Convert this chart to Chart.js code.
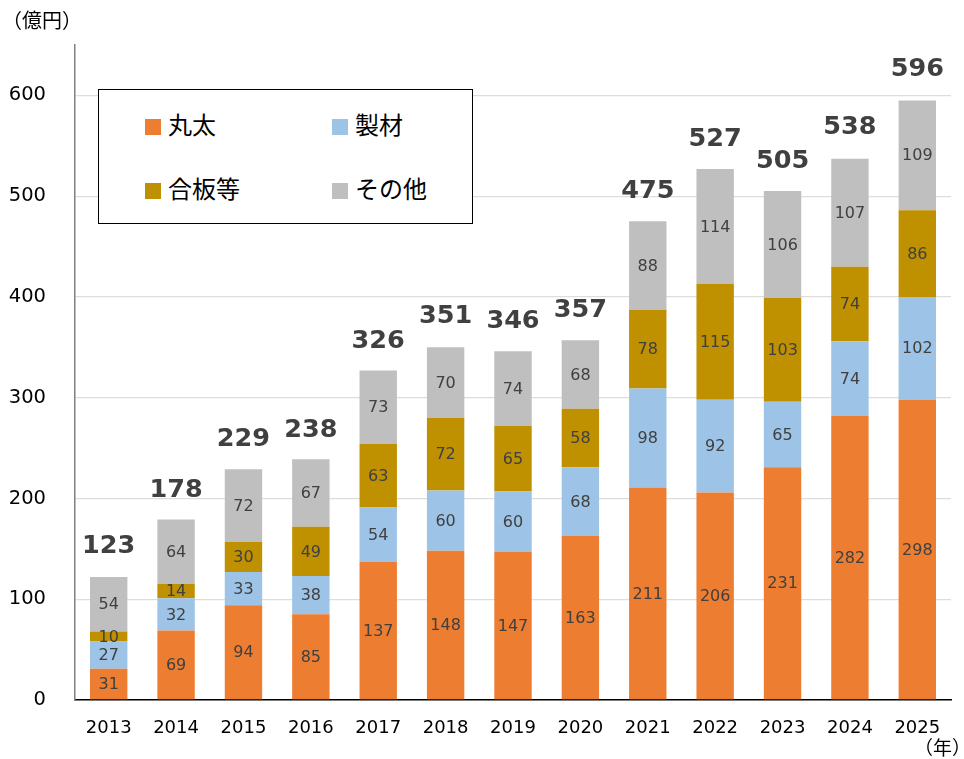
<!DOCTYPE html>
<html lang="ja">
<head>
<meta charset="utf-8">
<script src="https://cdn.jsdelivr.net/npm/chart.js@4"></script>
<style>
    body { margin: 0; background: #fff; }
    #wrap { position: relative; width: 964px; height: 759px; font-family: "Noto Sans CJK JP", sans-serif; }
    #unitY { position: absolute; left: 2px; top: 5px; font-size: 20px; color: #000; }
    #unitX { position: absolute; left: 914px; top: 733px; font-size: 19px; color: #000; }
    #legend {
        position: absolute; left: 98px; top: 89px; width: 373px; height: 133px;
        border: 1.5px solid #000; background: #fff;
    }
    .item { position: absolute; font-size: 24px; line-height: 28px; color: #000; }
    .item span { display: inline-block; width: 16px; height: 16px; margin-right: 7px; vertical-align: -1px; }
</style>
</head>
<body>
<div id="wrap">
    <canvas id="grafico" width="964" height="759"></canvas>
    <div id="unitY">（億円）</div>
    <div id="unitX">（年）</div>
    <div id="legend"></div>
</div>
<script>
// data
const anos = ["2013", "2014", "2015", "2016", "2017", "2018", "2019", "2020", "2021", "2022", "2023", "2024", "2025"];
const maruta = [31, 69, 94, 85, 137, 148, 147, 163, 211, 206, 231, 282, 298];
const seizai = [27, 32, 33, 38, 54, 60, 60, 68, 98, 92, 65, 74, 102];
const gouhan = [10, 14, 30, 49, 63, 72, 65, 58, 78, 115, 103, 74, 86];
const sonota = [54, 64, 72, 67, 73, 70, 74, 68, 88, 114, 106, 107, 109];
const totais = [123, 178, 229, 238, 326, 351, 346, 357, 475, 527, 505, 538, 596];
const yTicks = [0, 100, 200, 300, 400, 500, 600];

const series = [
    { nome: "丸太", valores: maruta, cor: "#ED7D31" },
    { nome: "製材", valores: seizai, cor: "#9DC3E6" },
    { nome: "合板等", valores: gouhan, cor: "#BF9000" },
    { nome: "その他", valores: sonota, cor: "#BFBFBF" }
];

// legend (html)
const legenda = document.getElementById("legend");
const posLegenda = [[46, 20], [233, 20], [46, 84], [233, 84]];
series.forEach((s, i) => {
    const el = document.createElement("div");
    el.className = "item";
    el.style.left = posLegenda[i][0] + "px";
    el.style.top = posLegenda[i][1] + "px";
    el.innerHTML = `<span style="background:${s.cor}"></span>${s.nome}`;
    legenda.appendChild(el);
});

// value labels inside segments + totals on top
const rotulos = {
    id: "rotulos",
    afterDatasetsDraw(chart) {
        const ctx = chart.ctx;
        ctx.save();
        ctx.textAlign = "center";
        ctx.textBaseline = "middle";
        ctx.fillStyle = "#404040";
        ctx.font = "16px 'DejaVu Sans'";
        chart.data.datasets.forEach((ds, i) => {
            chart.getDatasetMeta(i).data.forEach((bar, j) => {
                const p = bar.getProps(["x", "y", "base"], true);
                ctx.fillText(ds.data[j], p.x, (p.y + p.base) / 2 + 1);
            });
        });
        ctx.font = "bold 25.5px 'DejaVu Sans'";
        const yScale = chart.scales.y;
        chart.getDatasetMeta(0).data.forEach((bar, j) => {
            ctx.fillText(totais[j], bar.x, yScale.getPixelForValue(totais[j]) - 30);
        });
        ctx.restore();
    }
};

new Chart(document.getElementById("grafico"), {
    type: "bar",
    data: {
        labels: anos,
        datasets: series.map(s => ({
            label: s.nome,
            data: s.valores,
            backgroundColor: s.cor,
            categoryPercentage: 1,
            barPercentage: 0.555
        }))
    },
    options: {
        responsive: false,
        animation: false,
        devicePixelRatio: 1,
        layout: { padding: { top: 45, right: 13, left: 0, bottom: 0 } },
        plugins: { legend: { display: false }, tooltip: { enabled: false } },
        scales: {
            x: {
                stacked: true,
                grid: { display: false },
                border: { color: "#000", width: 1.5 },
                ticks: { color: "#000", font: { family: "DejaVu Sans", size: 18 }, padding: 10, maxRotation: 0 },
                afterFit(scale) { scale.height = 59; }
            },
            y: {
                stacked: true,
                min: 0,
                max: 650,
                afterBuildTicks(scale) { scale.ticks = yTicks.map(v => ({ value: v })); },
                grid: { color: "#DDDDDD", lineWidth: 1.3, drawTicks: false },
                border: { color: "#808080", width: 1.5 },
                ticks: { color: "#000", font: { family: "DejaVu Sans", size: 19.5 }, padding: 29 },
                afterFit(scale) { scale.width = 75; }
            }
        }
    },
    plugins: [rotulos]
});
</script>
</body>
</html>
